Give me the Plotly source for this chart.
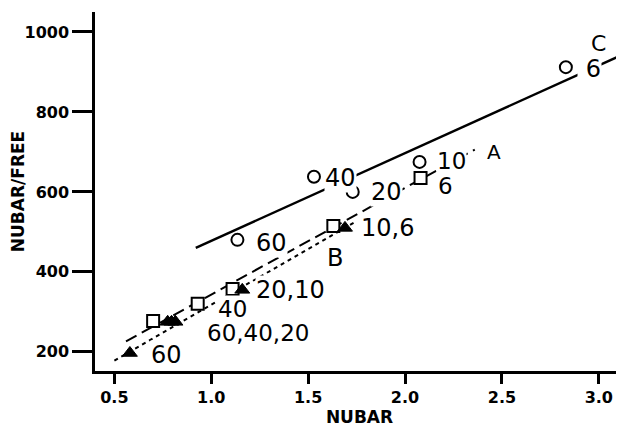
import plotly.graph_objects as go

# ---- data ----
c_x = [1.135, 1.53, 1.73, 2.075, 2.83]
c_y = [480, 638, 600, 675, 912]
a_x = [0.70, 0.93, 1.11, 1.63, 2.08]
a_y = [277, 320, 357, 515, 635]
b_x = [0.58, 0.775, 0.795, 0.815, 1.16, 1.69]
b_y = [197, 275, 275, 275, 355, 510]

line_c_x = [0.92, 3.13]
line_c_y = [460, 945]
line_a_x = [0.56, 2.36]
line_a_y = [226, 706]
line_b_x = [0.50, 1.75]
line_b_y = [178, 527]

label_text = ["C", "&nbsp;6", "A", "10", "6", "20", "40", "60", "10,6", "B", "20,10", "40", "60,40,20", "60"]
label_x = [3.0, 2.952, 2.46, 2.24, 2.21, 1.905, 1.667, 1.31, 1.91, 1.64, 1.41, 1.11, 1.24, 0.77]
label_y = [972, 907, 700, 677, 614, 600, 635, 472, 510, 435, 355, 308, 248, 192]
label_size = [22, 24, 20, 23, 23, 24, 24, 24, 24, 24, 24, 23, 23, 24]

x_ticks = [0.5, 1.0, 1.5, 2.0, 2.5, 3.0]
x_tick_text = ["0.5", "1.0", "1.5", "2.0", "2.5", "3.0"]
y_ticks = [200, 400, 600, 800, 1000]

fig = go.Figure()
fig.add_trace(go.Scatter(x=line_c_x, y=line_c_y, mode="lines",
                         line=dict(color="black", width=2.5)))
fig.add_trace(go.Scatter(x=line_a_x, y=line_a_y, mode="lines",
                         line=dict(color="black", width=2, dash="12px,6px")))
fig.add_trace(go.Scatter(x=line_b_x, y=line_b_y, mode="lines",
                         line=dict(color="black", width=2, dash="4px,4px")))
fig.add_trace(go.Scatter(x=c_x, y=c_y, mode="markers",
                         marker=dict(symbol="circle", size=12, color="white",
                                     line=dict(color="black", width=2))))
fig.add_trace(go.Scatter(x=a_x, y=a_y, mode="markers",
                         marker=dict(symbol="square", size=12, color="white",
                                     line=dict(color="black", width=2))))
fig.add_trace(go.Scatter(x=b_x, y=b_y, mode="markers",
                         marker=dict(symbol="triangle-up", size=13, color="black",
                                     line=dict(color="black", width=1))))

for t, x, y, s in zip(label_text, label_x, label_y, label_size):
    fig.add_annotation(x=x, y=y, text=t, showarrow=False, bgcolor="white",
                       borderpad=0,
                       font=dict(family="DejaVu Sans", size=s, color="black"))

tick_font = dict(family="DejaVu Sans", size=16, color="black", weight="bold")
title_font = dict(family="DejaVu Sans", size=17, color="black", weight="bold")
# page body has an 8px margin, so the figure is sized to fit the window
fig.update_layout(
    width=616, height=420,
    margin=dict(l=87, r=0, t=4, b=57),
    paper_bgcolor="white", plot_bgcolor="white",
    showlegend=False,
    xaxis=dict(range=[0.40, 3.13], tickvals=x_ticks, ticktext=x_tick_text,
               automargin=False,
               showgrid=False, zeroline=False, showline=True, linecolor="black",
               linewidth=2.5, ticks="outside", ticklen=10, tickwidth=2.5,
               tickcolor="black", tickfont=tick_font,
               title=dict(text="NUBAR", font=title_font, standoff=4)),
    yaxis=dict(range=[152, 1050], tickvals=y_ticks, automargin=False,
               showgrid=False, zeroline=False, showline=True, linecolor="black",
               linewidth=2.5, ticks="outside", ticklen=20, tickwidth=2.5,
               tickcolor="black", tickfont=tick_font,
               title=dict(text="NUBAR/FREE", font=title_font, standoff=6)),
)
fig.write_html("out.html")
